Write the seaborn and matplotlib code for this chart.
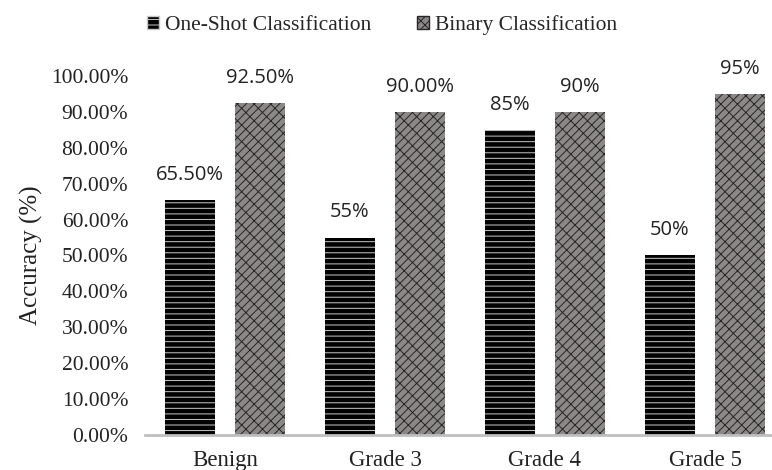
import matplotlib
matplotlib.use("Agg")
import matplotlib.pyplot as plt
import seaborn as sns
import pandas as pd

categories = ["Benign", "Grade 3", "Grade 4", "Grade 5"]
series_names = ["One-Shot Classification", "Binary Classification"]
one_shot = [0.655, 0.55, 0.85, 0.50]
binary = [0.925, 0.90, 0.90, 0.95]
one_shot_labels = ["65.50%", "55%", "85%", "50%"]
binary_labels = ["92.50%", "90.00%", "90%", "95%"]
yticks = [0.0, 0.1, 0.2, 0.3, 0.4, 0.5, 0.6, 0.7, 0.8, 0.9, 1.0]

df = pd.DataFrame({
    "Category": categories * 2,
    "Series": [series_names[0]] * 4 + [series_names[1]] * 4,
    "Accuracy": one_shot + binary,
})

sns.set_style("white")
plt.rcParams["hatch.linewidth"] = 0.7
serif = ["Liberation Serif", "DejaVu Serif"]

fig = plt.figure(figsize=(7.72, 4.70), dpi=100)
ax = fig.add_axes([145 / 772, 1 - 435 / 470, 1 - 145 / 772, (435 - 76) / 470])

sns.barplot(data=df, x="Category", y="Accuracy", hue="Series",
            hue_order=series_names, order=categories,
            palette=["#000000", "#8c8888"], width=0.875, gap=0.286,
            saturation=1, ax=ax, legend=True)

# black bars: fine light dashes; grey bars: dense dark diagonal weave
styles = [("#000000", "#c8c8c8", "---"), ("#8c8888", "#262626", "////\\\\")]
for container, (face, edge, hatch) in zip(ax.containers, styles):
    for p in container:
        p.set_facecolor(face)
        p.set_edgecolor(edge)
        p.set_hatch(hatch)
        p.set_linewidth(0)

for container, labels in zip(ax.containers, [one_shot_labels, binary_labels]):
    ax.bar_label(container, labels=labels, padding=11, fontsize=14.5,
                 family=["Open Sans", "DejaVu Sans"], color="#222222")

ax.set_ylim(0, 1.0)
ax.set_xlim(-0.5, (772 - 225) / 160)
ax.set_yticks(yticks)
ax.set_yticklabels([f"{v * 100:.2f}%" for v in yticks], family=serif, fontsize=15.5)
ax.set_xticks(range(len(categories)))
ax.set_xticklabels(categories, family=serif, fontsize=16.5)
ax.tick_params(axis="y", length=0, pad=12, colors="#222222")
ax.tick_params(axis="x", length=0, pad=10.5, colors="#222222")
ax.set_xlabel("")
ax.set_ylabel("Accuracy (%)", family=serif, fontsize=18, color="#222222", labelpad=6)

for s in ["left", "right", "top"]:
    ax.spines[s].set_visible(False)
ax.spines["bottom"].set_color("#bfbfbf")
ax.spines["bottom"].set_linewidth(2)

handles, lbls = ax.get_legend_handles_labels()
for h, (face, edge, hatch) in zip(handles, styles):
    h.set_facecolor(face)
    h.set_edgecolor(edge)
    h.set_hatch(hatch)
ax.legend(handles, lbls, loc="center", bbox_to_anchor=(0.378, 1 + 51 / 359),
          ncol=2, frameon=False, prop={"family": serif, "size": 15.5},
          handlelength=0.55, handleheight=0.55, handletextpad=0.3, columnspacing=2.1)

fig.savefig("out.png", dpi=100)
